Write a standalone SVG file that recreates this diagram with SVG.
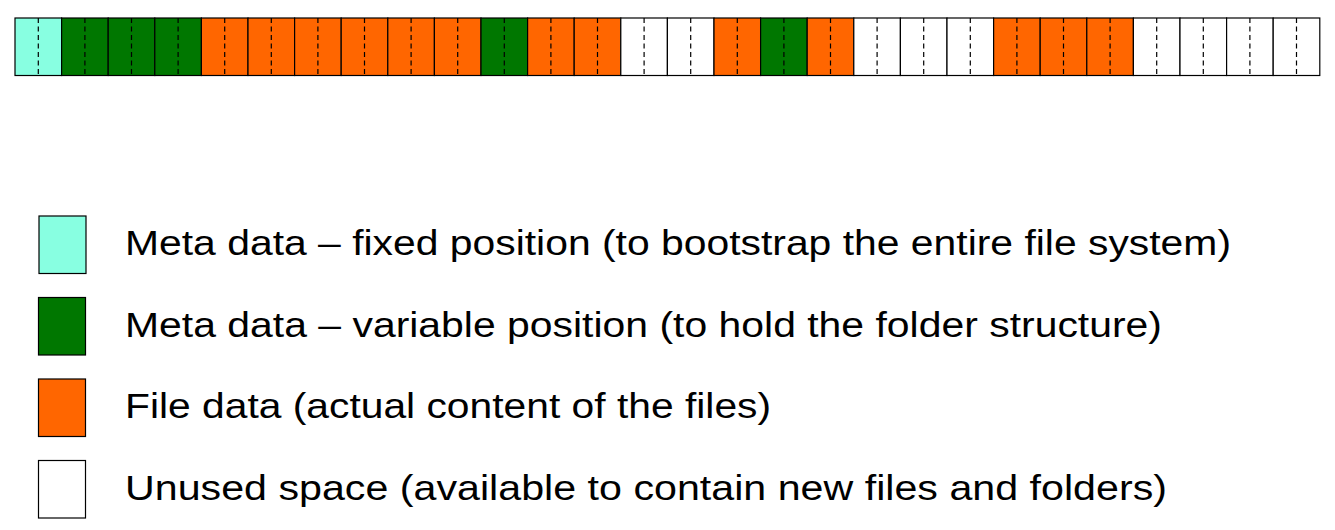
<svg xmlns="http://www.w3.org/2000/svg" width="1335" height="530" viewBox="0 0 1335 530">
  <style>
    .cell { stroke: #000; stroke-width: 1.2; }
    .div { stroke: #000; stroke-width: 1.2; stroke-dasharray: 5 3.5; }
    .fixed { fill: #88FFE1; }
    .var { fill: #007700; }
    .file { fill: #FF6600; }
    .free { fill: #FFFFFF; }
    .key { stroke: #000; stroke-width: 1.2; }
    .label { font-family: "Liberation Sans", Arial, sans-serif; font-size: 34.4px; fill: #000; }
  </style>

  <!-- disk block map: 28 blocks, each split into two halves -->
  <g id="disk">
    <rect class="cell fixed" x="15" y="18" width="46.6" height="57.5"/>
    <rect class="cell var" x="61.6" y="18" width="46.6" height="57.5"/>
    <rect class="cell var" x="108.2" y="18" width="46.6" height="57.5"/>
    <rect class="cell var" x="154.8" y="18" width="46.6" height="57.5"/>
    <rect class="cell file" x="201.4" y="18" width="46.6" height="57.5"/>
    <rect class="cell file" x="248" y="18" width="46.6" height="57.5"/>
    <rect class="cell file" x="294.6" y="18" width="46.6" height="57.5"/>
    <rect class="cell file" x="341.2" y="18" width="46.6" height="57.5"/>
    <rect class="cell file" x="387.8" y="18" width="46.6" height="57.5"/>
    <rect class="cell file" x="434.4" y="18" width="46.6" height="57.5"/>
    <rect class="cell var" x="481" y="18" width="46.6" height="57.5"/>
    <rect class="cell file" x="527.6" y="18" width="46.6" height="57.5"/>
    <rect class="cell file" x="574.2" y="18" width="46.6" height="57.5"/>
    <rect class="cell free" x="620.8" y="18" width="46.6" height="57.5"/>
    <rect class="cell free" x="667.4" y="18" width="46.6" height="57.5"/>
    <rect class="cell file" x="714" y="18" width="46.6" height="57.5"/>
    <rect class="cell var" x="760.6" y="18" width="46.6" height="57.5"/>
    <rect class="cell file" x="807.2" y="18" width="46.6" height="57.5"/>
    <rect class="cell free" x="853.8" y="18" width="46.6" height="57.5"/>
    <rect class="cell free" x="900.4" y="18" width="46.6" height="57.5"/>
    <rect class="cell free" x="947" y="18" width="46.6" height="57.5"/>
    <rect class="cell file" x="993.6" y="18" width="46.6" height="57.5"/>
    <rect class="cell file" x="1040.2" y="18" width="46.6" height="57.5"/>
    <rect class="cell file" x="1086.8" y="18" width="46.6" height="57.5"/>
    <rect class="cell free" x="1133.4" y="18" width="46.6" height="57.5"/>
    <rect class="cell free" x="1180" y="18" width="46.6" height="57.5"/>
    <rect class="cell free" x="1226.6" y="18" width="46.6" height="57.5"/>
    <rect class="cell free" x="1273.2" y="18" width="46.6" height="57.5"/>
    <!-- half-block dividers -->
    <g class="div">
      <line x1="38.3" y1="18" x2="38.3" y2="75.5"/>
      <line x1="84.9" y1="18" x2="84.9" y2="75.5"/>
      <line x1="131.5" y1="18" x2="131.5" y2="75.5"/>
      <line x1="178.1" y1="18" x2="178.1" y2="75.5"/>
      <line x1="224.7" y1="18" x2="224.7" y2="75.5"/>
      <line x1="271.3" y1="18" x2="271.3" y2="75.5"/>
      <line x1="317.9" y1="18" x2="317.9" y2="75.5"/>
      <line x1="364.5" y1="18" x2="364.5" y2="75.5"/>
      <line x1="411.1" y1="18" x2="411.1" y2="75.5"/>
      <line x1="457.7" y1="18" x2="457.7" y2="75.5"/>
      <line x1="504.3" y1="18" x2="504.3" y2="75.5"/>
      <line x1="550.9" y1="18" x2="550.9" y2="75.5"/>
      <line x1="597.5" y1="18" x2="597.5" y2="75.5"/>
      <line x1="644.1" y1="18" x2="644.1" y2="75.5"/>
      <line x1="690.7" y1="18" x2="690.7" y2="75.5"/>
      <line x1="737.3" y1="18" x2="737.3" y2="75.5"/>
      <line x1="783.9" y1="18" x2="783.9" y2="75.5"/>
      <line x1="830.5" y1="18" x2="830.5" y2="75.5"/>
      <line x1="877.1" y1="18" x2="877.1" y2="75.5"/>
      <line x1="923.7" y1="18" x2="923.7" y2="75.5"/>
      <line x1="970.3" y1="18" x2="970.3" y2="75.5"/>
      <line x1="1016.9" y1="18" x2="1016.9" y2="75.5"/>
      <line x1="1063.5" y1="18" x2="1063.5" y2="75.5"/>
      <line x1="1110.1" y1="18" x2="1110.1" y2="75.5"/>
      <line x1="1156.7" y1="18" x2="1156.7" y2="75.5"/>
      <line x1="1203.3" y1="18" x2="1203.3" y2="75.5"/>
      <line x1="1249.9" y1="18" x2="1249.9" y2="75.5"/>
      <line x1="1296.5" y1="18" x2="1296.5" y2="75.5"/>
    </g>
  </g>

  <!-- legend: labels are set in a slightly widened face -->
  <g id="legend-fixed">
    <rect class="key fixed" x="39" y="216" width="47" height="57.5"/>
    <text class="label" transform="translate(125 255) scale(1.19 1)" textLength="929.4" lengthAdjust="spacingAndGlyphs">Meta data – fixed position (to bootstrap the entire file system)</text>
  </g>
  <g id="legend-variable">
    <rect class="key var" x="38.5" y="297.5" width="47" height="57.5"/>
    <text class="label" transform="translate(125 336.5) scale(1.19 1)" textLength="871.4" lengthAdjust="spacingAndGlyphs">Meta data – variable position (to hold the folder structure)</text>
  </g>
  <g id="legend-file">
    <rect class="key file" x="38.5" y="379" width="47" height="57.5"/>
    <text class="label" transform="translate(125 418) scale(1.19 1)" textLength="542.9" lengthAdjust="spacingAndGlyphs">File data (actual content of the files)</text>
  </g>
  <g id="legend-free">
    <rect class="key free" x="38.5" y="460.5" width="47" height="57.5"/>
    <text class="label" transform="translate(125 499.5) scale(1.19 1)" textLength="875.6" lengthAdjust="spacingAndGlyphs">Unused space (available to contain new files and folders)</text>
  </g>
</svg>
